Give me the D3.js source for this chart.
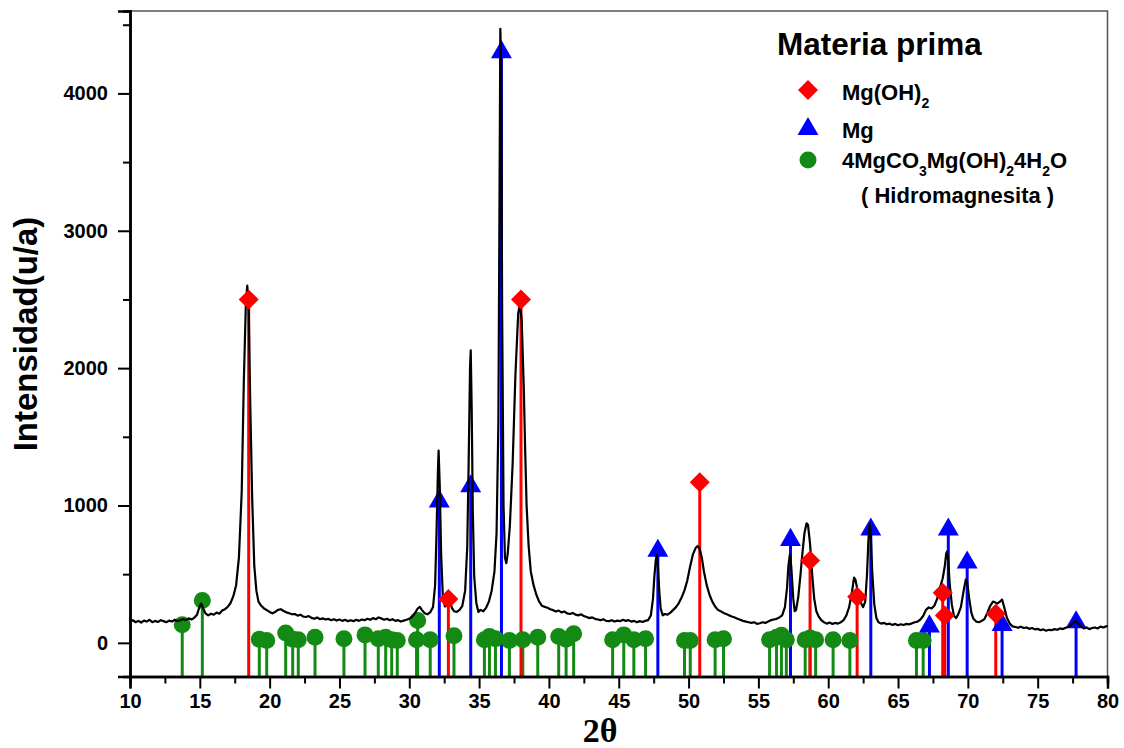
<!DOCTYPE html>
<html>
<head>
<meta charset="utf-8">
<script src="https://cdnjs.cloudflare.com/ajax/libs/d3/7.8.5/d3.min.js"></script>
<style>
  html, body { margin: 0; padding: 0; background: #fff; }
  svg { display: block; }
  text { font-family: "Liberation Sans", Arial, Helvetica, sans-serif; font-weight: bold; fill: #000; }
</style>
</head>
<body>
<svg id="chart" width="1124" height="748"></svg>
<script>
// Measured diffractogram: [2θ (deg), intensity (u/a)]
const scan = [
  [10.0,150],[10.2,165],[10.4,150],[10.6,160],[10.8,148],[11.0,162],[11.2,155],[11.4,168],[11.6,150],[11.8,160],
  [12.0,152],[12.2,165],[12.4,158],[12.6,150],[12.8,162],[13.0,155],[13.2,168],[13.4,158],[13.6,165],[13.8,172],
  [14.0,165],[14.2,178],[14.4,170],[14.6,182],[14.8,205],[15.0,270],[15.1,285],[15.2,260],[15.4,215],[15.6,200],
  [15.8,212],[16.0,205],[16.2,220],[16.4,212],[16.6,235],[16.8,245],[17.0,262],[17.2,290],[17.4,340],[17.6,420],
  [17.8,620],[18.0,1100],[18.15,1900],[18.3,2480],[18.4,2600],[18.5,2450],[18.6,1800],[18.75,1050],[18.9,560],[19.05,380],
  [19.2,300],[19.4,270],[19.6,250],[19.8,238],[20.0,225],[20.2,215],[20.4,225],[20.6,240],[20.8,245],[21.0,232],
  [21.2,222],[21.4,215],[21.6,208],[21.8,210],[22.0,198],[22.2,205],[22.4,192],[22.6,188],[22.8,195],[23.0,182],
  [23.2,175],[23.4,185],[23.6,172],[23.8,178],[24.0,170],[24.2,175],[24.4,165],[24.6,172],[24.8,162],[25.0,170],
  [25.2,160],[25.4,168],[25.6,158],[25.8,165],[26.0,158],[26.2,168],[26.4,160],[26.6,170],[26.8,165],[27.0,175],
  [27.2,168],[27.4,180],[27.6,172],[27.8,185],[28.0,178],[28.2,168],[28.4,175],[28.6,165],[28.8,172],[29.0,160],
  [29.2,165],[29.4,155],[29.6,162],[29.8,168],[30.0,175],[30.2,190],[30.4,215],[30.6,250],[30.75,262],[30.9,240],
  [31.1,215],[31.3,208],[31.5,222],[31.7,260],[31.85,420],[31.95,800],[32.05,1250],[32.1,1400],[32.18,1150],[32.28,650],
  [32.4,340],[32.55,265],[32.7,300],[32.8,335],[32.9,310],[33.05,255],[33.2,230],[33.4,225],[33.6,240],[33.8,270],
  [34.0,380],[34.15,700],[34.25,1300],[34.35,2000],[34.4,2130],[34.47,1700],[34.55,950],[34.65,480],[34.8,290],[34.95,225],
  [35.1,240],[35.3,230],[35.5,255],[35.7,300],[35.9,380],[36.1,520],[36.25,800],[36.38,1600],[36.45,3000],[36.52,4470],
  [36.58,4200],[36.65,2400],[36.75,1000],[36.85,620],[36.95,580],[37.05,650],[37.2,850],[37.4,1300],[37.6,1950],[37.8,2400],
  [37.92,2460],[38.05,2350],[38.2,1850],[38.3,1400],[38.4,1000],[38.55,700],[38.7,520],[38.9,420],[39.1,350],[39.3,300],
  [39.5,270],[39.7,262],[39.9,255],[40.1,245],[40.3,238],[40.5,228],[40.7,235],[40.9,222],[41.1,228],[41.3,215],
  [41.5,210],[41.7,218],[41.9,205],[42.1,200],[42.3,208],[42.5,195],[42.7,188],[42.9,180],[43.1,185],[43.3,175],
  [43.5,170],[43.7,165],[43.9,172],[44.1,160],[44.3,158],[44.5,165],[44.7,155],[44.9,162],[45.1,158],[45.3,168],
  [45.5,160],[45.7,165],[45.9,155],[46.1,160],[46.3,150],[46.5,158],[46.7,152],[46.9,160],[47.1,165],[47.3,200],
  [47.45,320],[47.55,480],[47.65,600],[47.72,640],[47.8,560],[47.9,380],[48.0,250],[48.15,200],[48.3,210],[48.5,205],
  [48.7,220],[48.9,240],[49.1,260],[49.3,290],[49.5,330],[49.7,380],[49.9,450],[50.1,550],[50.3,640],[50.5,690],
  [50.65,705],[50.8,680],[50.95,620],[51.1,520],[51.3,420],[51.5,350],[51.7,300],[51.9,265],[52.1,240],[52.3,230],
  [52.5,218],[52.7,210],[52.9,200],[53.1,192],[53.3,185],[53.5,175],[53.7,168],[53.9,160],[54.1,155],[54.3,150],
  [54.5,145],[54.7,150],[54.9,138],[55.1,143],[55.3,150],[55.5,145],[55.7,155],[55.9,165],[56.1,170],[56.3,175],
  [56.5,185],[56.7,200],[56.9,260],[57.05,400],[57.15,560],[57.25,640],[57.35,560],[57.5,320],[57.6,230],[57.7,240],
  [57.85,330],[58.0,480],[58.15,650],[58.3,800],[58.45,870],[58.55,860],[58.7,720],[58.85,500],[59.0,320],[59.15,230],
  [59.3,195],[59.5,165],[59.7,150],[59.9,140],[60.1,148],[60.3,138],[60.5,145],[60.7,140],[60.9,150],[61.1,165],
  [61.3,200],[61.5,260],[61.7,370],[61.85,475],[61.95,460],[62.1,380],[62.3,300],[62.5,260],[62.65,300],[62.78,500],
  [62.88,750],[62.97,870],[63.05,780],[63.15,520],[63.3,280],[63.45,180],[63.6,150],[63.8,140],[64.0,145],[64.2,135],
  [64.4,140],[64.6,130],[64.8,138],[65.0,128],[65.2,135],[65.4,130],[65.6,138],[65.8,135],[66.0,142],[66.2,150],
  [66.4,155],[66.6,170],[66.8,195],[67.0,240],[67.2,258],[67.4,250],[67.6,270],[67.8,320],[68.0,400],[68.2,470],
  [68.35,560],[68.45,650],[68.52,665],[68.6,590],[68.7,430],[68.85,280],[69.0,200],[69.15,180],[69.3,205],[69.5,260],
  [69.7,380],[69.85,460],[69.95,440],[70.1,320],[70.25,220],[70.4,175],[70.6,155],[70.8,150],[71.0,160],[71.2,175],
  [71.4,220],[71.6,270],[71.8,300],[71.95,295],[72.1,285],[72.3,300],[72.45,315],[72.6,260],[72.8,180],[73.0,140],
  [73.2,120],[73.4,115],[73.6,110],[73.8,118],[74.0,108],[74.2,112],[74.4,102],[74.6,108],[74.8,98],[75.0,102],
  [75.2,92],[75.4,98],[75.6,88],[75.8,95],[76.0,92],[76.2,100],[76.4,95],[76.6,105],[76.8,100],[77.0,110],
  [77.2,115],[77.4,130],[77.6,150],[77.75,158],[77.9,140],[78.1,120],[78.3,105],[78.5,112],[78.7,100],[78.9,108],
  [79.1,112],[79.3,105],[79.5,118],[79.7,112],[79.9,120],[80.0,125]
];

// Reference pattern lines: [2θ, relative height]
const brucite = [ // Mg(OH)2
  [18.5,2500],[32.8,320],[38.0,2500],[50.8,1170],[58.7,600],[62.07,335],[68.2,365],[68.35,200],[72.0,212]
];
const magnesium = [ // Mg
  [32.15,1030],[34.4,1140],[36.6,4300],[47.8,670],[57.3,750],[63.05,825],[67.25,120],[68.6,825],[69.95,585],[72.45,130],[77.75,150]
];
const hydromagnesite = [ // 4MgCO3·Mg(OH)2·4H2O
  [13.74,131],[15.18,308],[19.26,27],[19.79,17],[21.15,71],[21.65,27],[22.05,22],[23.25,41],[25.32,29],[26.83,58],
  [27.78,29],[28.31,41],[28.74,22],[29.14,17],[30.52,22],[30.6,162],[31.5,22],[33.2,51],[35.38,22],[35.74,46],
  [36.17,29],[37.17,17],[38.13,22],[39.2,41],[40.7,46],[41.23,27],[41.77,66],[44.56,22],[45.36,58],[46.08,22],
  [46.92,29],[49.71,17],[50.12,17],[51.9,22],[52.5,29],[55.8,22],[56.3,40],[56.65,55],[57.0,22],[58.35,22],
  [58.7,36],[59.1,22],[60.35,22],[61.55,17],[66.32,17],[66.8,17]
];

const xMajorTicks = [10,15,20,25,30,35,40,45,50,55,60,65,70,75,80];
const xMinorTicks = [12.5,17.5,22.5,27.5,32.5,37.5,42.5,47.5,52.5,57.5,62.5,67.5,72.5,77.5];
const yMajorTicks = [0,1000,2000,3000,4000];
const yMinorTicks = [500,1500,2500,3500,4500];

const RED = "#ff0000", BLUE = "#0000ff", GREEN = "#138a13";

const svg = d3.select("#chart");
const plot = { left: 130, right: 1107.5, top: 11, bottom: 676.5 };

const x = d3.scaleLinear().domain([10, 80]).range([plot.left, plot.right]);
const y = d3.scaleLinear().domain([-245, 4600]).range([plot.bottom, plot.top]);
const yBase = y.domain()[0];

// frame (top and right)
svg.append("path")
  .attr("d", `M${plot.left},${plot.top}H${plot.right}V${plot.bottom}`)
  .attr("fill", "none").attr("stroke", "#555").attr("stroke-width", 1.5);

// stick lines of the reference patterns
function sticks(data, color, width) {
  svg.append("g").selectAll("line").data(data).join("line")
    .attr("x1", d => x(d[0])).attr("x2", d => x(d[0]))
    .attr("y1", y(yBase)).attr("y2", d => y(d[1]))
    .attr("stroke", color).attr("stroke-width", width);
}
sticks(hydromagnesite, GREEN, 3);
sticks(brucite, RED, 3);
sticks(magnesium, BLUE, 3);

const triangle = d3.symbol().type(d3.symbolTriangle).size(190);
const diamond = d3.symbol().type(d3.symbolSquare).size(200);

svg.append("g").selectAll("circle").data(hydromagnesite).join("circle")
  .attr("cx", d => x(d[0])).attr("cy", d => y(d[1])).attr("r", 8.5).attr("fill", GREEN);

svg.append("g").selectAll("path").data(magnesium).join("path")
  .attr("d", triangle).attr("transform", d => `translate(${x(d[0])},${y(d[1])})`).attr("fill", BLUE);

// diffractogram
const line = d3.line().x(d => x(d[0])).y(d => y(d[1]));
svg.append("path").datum(scan)
  .attr("d", line).attr("fill", "none").attr("stroke", "#000")
  .attr("stroke-width", 2.2).attr("stroke-linejoin", "round");

svg.append("g").selectAll("path").data(brucite).join("path")
  .attr("d", diamond).attr("transform", d => `translate(${x(d[0])},${y(d[1])}) rotate(45)`).attr("fill", RED);

// axes
const axisFont = g => g.selectAll("text")
  .style("font-family", '"Liberation Sans", Arial, sans-serif')
  .style("font-weight", "bold").style("font-size", "20px").attr("fill", "#000");

const gx = svg.append("g").attr("transform", `translate(0,${plot.bottom})`);
gx.call(d3.axisBottom(x).tickValues(xMajorTicks).tickSize(12).tickPadding(5).tickFormat(d3.format("d")))
  .call(axisFont);
gx.append("g").call(d3.axisBottom(x).tickValues(xMinorTicks).tickSize(7).tickFormat(""));
gx.selectAll("path.domain").attr("stroke", "#000").attr("stroke-width", 2.5);
gx.selectAll(".tick line").attr("stroke", "#000").attr("stroke-width", 2);

const gy = svg.append("g").attr("transform", `translate(${plot.left},0)`);
gy.call(d3.axisLeft(y).tickValues(yMajorTicks).tickSize(12).tickPadding(10).tickFormat(d3.format("d")))
  .call(axisFont);
gy.append("g").call(d3.axisLeft(y).tickValues(yMinorTicks).tickSize(7).tickFormat(""));
gy.selectAll("path.domain").attr("stroke", "#000").attr("stroke-width", 2.5);
gy.selectAll(".tick line").attr("stroke", "#000").attr("stroke-width", 2);

// axis titles
svg.append("text")
  .attr("x", 600).attr("y", 742).attr("text-anchor", "middle")
  .style("font-family", '"Liberation Serif", "Times New Roman", serif')
  .style("font-size", "34px").style("font-weight", "bold")
  .text("2θ");

svg.append("text")
  .attr("transform", "translate(37,334) rotate(-90)").attr("text-anchor", "middle")
  .style("font-size", "33px")
  .text("Intensidad(u/a)");

// legend
const legend = svg.append("g");
legend.append("text").attr("x", 777).attr("y", 55).style("font-size", "31.5px").text("Materia prima");

// chemical formula: plain strings stay on the baseline, {sub} parts are lowered
function formula(g, xPos, yPos, parts) {
  const t = g.append("text").attr("x", xPos).attr("y", yPos).style("font-size", "22px");
  let lowered = false;
  parts.forEach(p => {
    if (typeof p === "string") {
      t.append("tspan").attr("dy", lowered ? -8 : 0).text(p);
      lowered = false;
    } else {
      t.append("tspan").attr("dy", 8).style("font-size", "14px").text(p.sub);
      lowered = true;
    }
  });
  return t;
}

const legendItems = [
  { shape: "diamond", color: RED, cy: 90, ty: 100, parts: ["Mg(OH)", { sub: "2" }] },
  { shape: "triangle", color: BLUE, cy: 129, ty: 138, parts: ["Mg"] },
  { shape: "circle", color: GREEN, cy: 160, ty: 168, parts: ["4MgCO", { sub: "3" }, "Mg(OH)", { sub: "2" }, "4H", { sub: "2" }, "O"] }
];
legendItems.forEach(item => {
  if (item.shape === "circle") {
    legend.append("circle").attr("cx", 808).attr("cy", item.cy).attr("r", 8.5).attr("fill", item.color);
  } else {
    const sym = item.shape === "diamond" ? diamond : triangle;
    legend.append("path").attr("d", sym)
      .attr("transform", `translate(808,${item.cy})` + (item.shape === "diamond" ? " rotate(45)" : ""))
      .attr("fill", item.color);
  }
  formula(legend, 842, item.ty, item.parts);
});
legend.append("text").attr("x", 861).attr("y", 203).style("font-size", "22px").text("( Hidromagnesita )");
</script>
</body>
</html>
